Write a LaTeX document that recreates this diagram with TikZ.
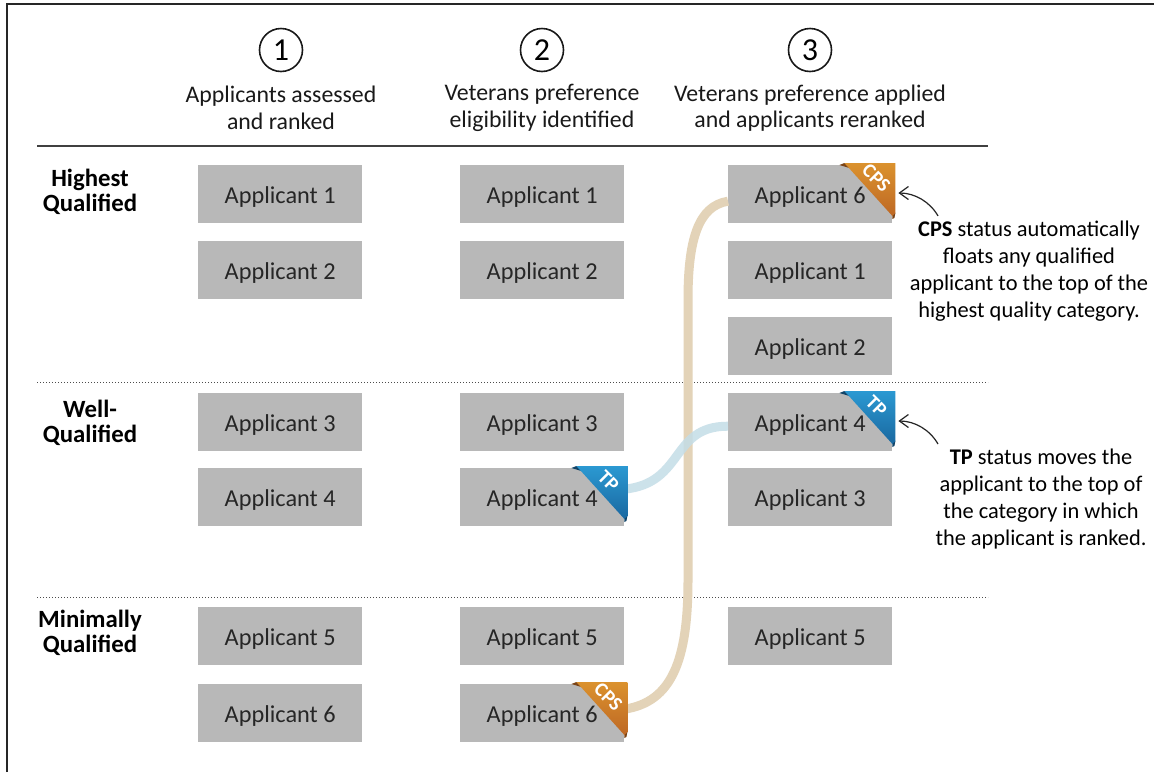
\documentclass[tikz,border=0pt]{standalone}
\usepackage{fontspec}
\setmainfont{Carlito}
\usetikzlibrary{arrows.meta,calc}
\definecolor{boxgray}{HTML}{B8B8B8}
\definecolor{beigeline}{HTML}{E3D3B8}
\definecolor{blueline}{HTML}{C4DDE7}
\definecolor{cpstop}{HTML}{DB922E}
\definecolor{cpsbot}{HTML}{BE6824}
\definecolor{tptop}{HTML}{2B99D2}
\definecolor{tpbot}{HTML}{1A68A0}
\tikzset{
  appbox/.style={fill=boxgray,draw=none,minimum width=164pt,minimum height=58pt,inner sep=0pt,text height=19pt,text depth=0pt,font=\fontsize{24.3}{24.3}\selectfont,text=black!85,anchor=north west},
  head/.style={align=center,font=\fontsize{23.8}{26.5}\selectfont,text=black!90,inner sep=0pt},
  numc/.style={circle,draw=black!90,line width=1.6pt,minimum size=43pt,inner sep=0pt,font=\fontsize{32}{32}\selectfont},
  rowlab/.style={align=center,font=\bfseries\fontsize{24.8}{25}\selectfont,inner sep=0pt},
  note/.style={align=center,font=\fontsize{22.4}{26.8}\selectfont,inner sep=0pt},
  ribtext/.style={text=white,font=\bfseries\fontsize{20}{20}\selectfont,rotate=-45,inner sep=0pt},
  conn/.style={line width=9pt,line cap=butt},
  rule/.style={draw=black!75,line width=1.2pt},
  dotrule/.style={draw=black!70,line width=1pt,dash pattern=on 1pt off 2pt},
  pointer/.style={draw=black!85,line width=1.2pt,-{Straight Barb[length=9pt,width=13pt]}}
}
\newcommand{\ribbon}[4]{% node, top colour, bottom colour, text
  \fill[#3!65!black] ($(#1.north east)+(-53,0)$) -- ++(5,-2) -- ++(5,5) -- cycle;
  \fill[#3!65!black] ($(#1.north east)+(0,46)$) -- ++(3,2) -- ++(-1,5) -- ++(-2,1) -- cycle;
  \shade[top color=#2,bottom color=#3] ($(#1.north east)+(-48,-2)$) -- ++(51,0) -- ++(0,50) -- ++(-3,3) -- cycle;
  \node[ribtext] at ($(#1.north east)+(-16,13)$) {#4};
}
\begin{document}
\begin{tikzpicture}[x=1pt,y=-1pt]
\useasboundingbox (0,0) rectangle (1154,772);
\fill[white] (0,0) rectangle (1154,772);
\draw[black!85,line width=1.4pt] (7,772) -- (7,4) -- (1154,4);
\coordinate (ruleL) at (37,146); \coordinate (ruleR) at (988,146);
\coordinate (dotAL) at (37,382); \coordinate (dotAR) at (988,382);
\coordinate (dotBL) at (37,597); \coordinate (dotBR) at (988,597);
\draw[rule] (ruleL) -- (ruleR);
\draw[dotrule] (dotAL) -- (dotAR);
\draw[dotrule] (dotBL) -- (dotBR);
\node[numc] (n1) at (281,50) {1};
\node[numc] (n2) at (542,50) {2};
\node[numc] (n3) at (810,50) {3};
\node[head] (h1) at (281,108) {Applicants assessed\\and ranked};
\node[head] (h2) at (542,108) {Veterans preference\\eligibility identified};
\node[head] (h3) at (810,108) {Veterans preference applied\\and applicants reranked};
\node[rowlab] (r1) at (90,192) {Highest\\Qualified};
\node[rowlab] (r2) at (90,423) {Well-\\Qualified};
\node[rowlab] (r3) at (90,633) {Minimally\\Qualified};
\foreach \nm/\xx/\yy/\tx in {a1/198/165/1,a2/198/241/2,a3/198/393/3,a4/198/468/4,a5/198/607/5,a6/198/684/6,
  b1/460/165/1,b2/460/241/2,b3/460/393/3,b4/460/468/4,b5/460/607/5,b6/460/684/6,
  c6/728/165/6,c1/728/241/1,c2/728/317/2,c4/728/393/4,c3/728/468/3,c5/728/607/5}
  \node[appbox] (\nm) at (\xx,\yy) {Applicant \tx};
\draw[beigeline,conn] ($(b6.east)+(0,-4)$) .. controls (672,702) and (688,660) .. (688,580) -- (688,300) .. controls (688,240) and (698,206) .. ($(c6.west)+(0,7)$);
\draw[blueline,conn,opacity=.85] ($(b4.east)+(0,-8)$) .. controls (685,483) and (670,426) .. ($(c4.west)+(0,4)$);
\ribbon{c6}{cpstop}{cpsbot}{CPS}
\ribbon{b6}{cpstop}{cpsbot}{CPS}
\ribbon{c4}{tptop}{tpbot}{TP}
\ribbon{b4}{tptop}{tpbot}{TP}
\node[note] (ncps) at (1029,271) {\textbf{CPS} status automatically\\floats any qualified\\applicant to the top of the\\highest quality category.};
\node[note] (ntp) at (1041,499) {\textbf{TP} status moves the\\applicant to the top of\\the category in which\\the applicant is ranked.};
\coordinate (tipc) at ($(c6.north east)+(6,28)$);
\coordinate (tipt) at ($(c4.north east)+(6,28)$);
\draw[pointer] ($(ncps.north)+(-91,-5)$) .. controls (930,202) and (915,193) .. (tipc);
\draw[pointer] ($(ntp.north)+(-103,-5)$) .. controls (930,430) and (915,421) .. (tipt);
\end{tikzpicture}
\end{document}
